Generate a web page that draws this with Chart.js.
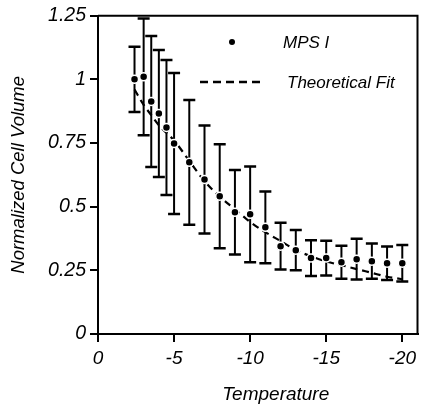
<!DOCTYPE html>
<html>
<head>
<meta charset="utf-8">
<script src="https://cdn.jsdelivr.net/npm/chart.js@4/dist/chart.umd.min.js"></script>
<style>
  html, body { margin: 0; padding: 0; background: #fff; }
  #wrap { position: relative; width: 423px; height: 409px; }
</style>
</head>
<body>
<div id="wrap"><canvas id="volumeChart"></canvas></div>
<script>
// data
const temperatures = [-2.4, -3, -3.5, -4, -4.5, -5, -6, -7, -8, -9, -10, -11, -12, -13, -14, -15, -16, -17, -18, -19, -20];
const meanVolume = [1.0, 1.01, 0.913, 0.866, 0.811, 0.748, 0.674, 0.607, 0.541, 0.478, 0.47, 0.419, 0.345, 0.329, 0.298, 0.298, 0.282, 0.294, 0.286, 0.278, 0.278];
const volumeError = [0.128, 0.229, 0.257, 0.249, 0.265, 0.277, 0.245, 0.212, 0.204, 0.166, 0.188, 0.141, 0.092, 0.079, 0.07, 0.068, 0.065, 0.08, 0.069, 0.066, 0.072];
const fitVolume = [0.96, 0.9, 0.86, 0.82, 0.79, 0.76, 0.68, 0.6, 0.54, 0.49, 0.44, 0.4, 0.365, 0.33, 0.305, 0.285, 0.27, 0.255, 0.24, 0.225, 0.215];
const xTicks = [0, -5, -10, -15, -20];
const yTicks = [0, 0.25, 0.5, 0.75, 1, 1.25];

const FONT = "'Liberation Sans', Arial, sans-serif";
const italic = (size) => ({ family: FONT, size: size, style: "italic" });

// error bars under the points
const errorBars = {
  id: "errorBars",
  beforeDatasetsDraw(chart) {
    const { ctx, scales } = chart;
    ctx.save();
    ctx.strokeStyle = "#000";
    temperatures.forEach((t, i) => {
      const x = scales.x.getPixelForValue(t);
      const top = scales.y.getPixelForValue(meanVolume[i] + volumeError[i]);
      const bot = scales.y.getPixelForValue(meanVolume[i] - volumeError[i]);
      ctx.lineWidth = 2;
      ctx.beginPath();
      ctx.moveTo(x, top);
      ctx.lineTo(x, bot);
      ctx.stroke();
      ctx.lineWidth = 2.5;
      ctx.beginPath();
      ctx.moveTo(x - 6, top);
      ctx.lineTo(x + 6, top);
      ctx.moveTo(x - 6, bot);
      ctx.lineTo(x + 6, bot);
      ctx.stroke();
    });
    ctx.restore();
  }
};

// frame, x title and the inset legend
const decorations = {
  id: "decorations",
  afterDraw(chart) {
    const { ctx, chartArea } = chart;
    ctx.save();
    ctx.strokeStyle = "#000";
    ctx.lineWidth = 2;
    ctx.beginPath();
    ctx.moveTo(chartArea.left, chartArea.top);
    ctx.lineTo(chartArea.right, chartArea.top);
    ctx.lineTo(chartArea.right, chartArea.bottom);
    ctx.stroke();

    ctx.fillStyle = "#000";
    ctx.font = "italic 19px " + FONT;
    ctx.textAlign = "center";
    ctx.textBaseline = "middle";
    ctx.fillText("Temperature", (chartArea.left + chartArea.right) / 2 + 18, 395);

    // legend
    ctx.textAlign = "left";
    ctx.font = "italic 17px " + FONT;
    ctx.beginPath();
    ctx.arc(232, 42, 3, 0, Math.PI * 2);
    ctx.fill();
    ctx.fillText("MPS I", 283, 43);

    ctx.setLineDash([8, 5]);
    ctx.lineWidth = 2.5;
    ctx.beginPath();
    ctx.moveTo(200, 82);
    ctx.lineTo(260, 82);
    ctx.stroke();
    ctx.setLineDash([]);
    ctx.fillText("Theoretical Fit", 287, 83);
    ctx.restore();
  }
};

const chart = new Chart(document.getElementById("volumeChart"), {
  type: "scatter",
  data: {
    datasets: [
      {
        label: "MPS I",
        data: temperatures.map((t, i) => ({ x: t, y: meanVolume[i] })),
        pointRadius: 4,
        pointBackgroundColor: "#000",
        pointBorderColor: "#fff",
        pointBorderWidth: 1.5,
        order: 0
      },
      {
        label: "Theoretical Fit",
        type: "line",
        data: temperatures.map((t, i) => ({ x: t, y: fitVolume[i] })),
        borderColor: "#000",
        borderWidth: 2.2,
        borderDash: [7, 5],
        pointRadius: 0,
        cubicInterpolationMode: "monotone",
        fill: false,
        order: 1
      }
    ]
  },
  options: {
    responsive: true,
    maintainAspectRatio: false,
    animation: false,
    layout: { padding: { top: 15, right: 5, left: 0, bottom: 0 } },
    plugins: { legend: { display: false }, tooltip: { enabled: false } },
    scales: {
      x: {
        type: "linear",
        min: -21,
        max: 0,
        reverse: true,
        afterBuildTicks: (s) => { s.ticks = xTicks.map((v) => ({ value: v })); },
        afterFit: (s) => { s.height = 75; },
        grid: { drawOnChartArea: false, color: "#000", lineWidth: 2, tickLength: 8 },
        border: { color: "#000", width: 2 },
        ticks: { color: "#000", font: italic(19), padding: 5, maxRotation: 0, callback: (v) => String(v) }
      },
      y: {
        min: 0,
        max: 1.25,
        afterBuildTicks: (s) => { s.ticks = yTicks.map((v) => ({ value: v })); },
        afterFit: (s) => { s.width = 98; },
        grid: { drawOnChartArea: false, color: "#000", lineWidth: 2, tickLength: 8 },
        border: { color: "#000", width: 2 },
        ticks: { color: "#000", font: italic(19.5), padding: 4, callback: (v) => String(v) },
        title: { display: true, text: "Normalized Cell Volume", color: "#000", font: italic(18.5), padding: { top: 8 } }
      }
    }
  },
  plugins: [errorBars, decorations]
});
</script>
</body>
</html>
